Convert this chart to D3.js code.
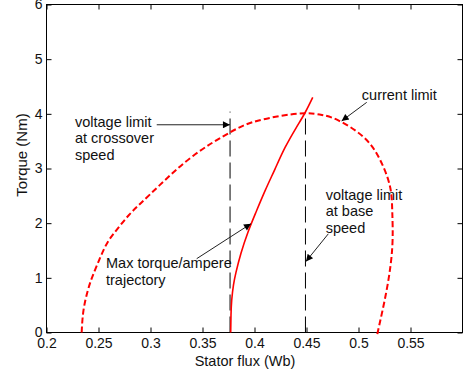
<!DOCTYPE html>
<html>
<head>
<meta charset="utf-8">
<script src="https://cdn.jsdelivr.net/npm/d3@7"></script>
<style>
  body { margin: 0; background: #fff; }
  svg { display: block; }
  text { font-family: "Liberation Sans", Arial, sans-serif; fill: #111; }
  .tick text { font-family: "Liberation Sans Narrow", "Liberation Sans", Arial, sans-serif; font-size: 14px; }
</style>
</head>
<body>
<svg id="chart" width="464" height="374"></svg>
<script>
// Axis ticks
const xTicks = [0.2, 0.25, 0.3, 0.35, 0.4, 0.45, 0.5, 0.55];
const yTicks = [0, 1, 2, 3, 4, 5, 6];

// Current limit locus (stator flux in Wb, torque in Nm)
const currentLimitFlux   = [0.2338, 0.2356, 0.2399, 0.2447, 0.2514, 0.2591, 0.2688, 0.2793, 0.2909, 0.3091, 0.3409, 0.3764, 0.3986, 0.4245, 0.4486, 0.4649, 0.4806, 0.5046, 0.5207, 0.5303, 0.5325, 0.5325, 0.5271, 0.5190, 0.5188];
const currentLimitTorque = [0.00,   0.41,   0.78,   1.05,   1.36,   1.66,   1.91,   2.15,   2.37,   2.70,   3.23,   3.66,   3.85,   3.96,   4.01,   3.98,   3.88,   3.58,   3.16,   2.67,   2.19,   1.57,   0.78,   0.05,   0.00];

// Maximum torque per ampere trajectory
const mtpaFlux   = [0.3771, 0.3774, 0.3781, 0.3798, 0.3822, 0.3870, 0.3938, 0.4014, 0.4101, 0.4197, 0.4293, 0.4399, 0.4486, 0.4560];
const mtpaTorque = [0.00,   0.32,   0.595,  0.87,   1.10,   1.45,   1.84,   2.20,   2.59,   2.99,   3.38,   3.74,   4.02,   4.30];

// Voltage limits (vertical lines): crossover speed and base speed
const voltageLimitFlux = [0.3765, 0.4490];
const voltageLimitTop  = [4.04, 4.00];

// Annotations: text anchor and arrow from/to, in data units
const annotations = [
  { lines: ["voltage limit", "at crossover", "speed"], tx: 0.2274, ty: 3.768, from: [0.3060, 3.80], to: [0.3764, 3.80] },
  { lines: ["current limit"], tx: 0.5032, ty: 4.256, from: [0.5079, 4.21], to: [0.4838, 3.87] },
  { lines: ["Max torque/ampere", "trajectory"], tx: 0.2572, ty: 1.18, from: [0.3444, 1.35], to: [0.3966, 1.99] },
  { lines: ["voltage limit", "at base", "speed"], tx: 0.4685, ty: 2.43, from: [0.4710, 1.805], to: [0.4495, 1.30] }
];

const xLabel = "Stator flux (Wb)";
const yLabel = "Torque (Nm)";

const svg = d3.select("#chart");
const plotLeft = 46.5, plotRight = 462.5, plotTop = 4.5, plotBottom = 332.5;

const x = d3.scaleLinear().domain([0.2, 0.6]).range([plotLeft, plotRight]);
const y = d3.scaleLinear().domain([0, 6]).range([plotBottom, plotTop]);

// Arrowhead marker
svg.append("defs").append("marker")
  .attr("id", "head")
  .attr("viewBox", "0 0 10 10")
  .attr("refX", 10).attr("refY", 5)
  .attr("markerWidth", 9).attr("markerHeight", 7)
  .attr("markerUnits", "userSpaceOnUse")
  .attr("orient", "auto")
  .append("path")
  .attr("d", "M0,0L10,5L0,10Z")
  .attr("fill", "#000");

// Axes with inward ticks on all four sides
const gx = svg.append("g").attr("transform", `translate(0,${plotBottom})`)
  .call(d3.axisBottom(x).tickValues(xTicks).tickFormat(d3.format("")).tickSizeInner(-5).tickSizeOuter(0).tickPadding(6));
const gy = svg.append("g").attr("transform", `translate(${plotLeft},0)`)
  .call(d3.axisLeft(y).tickValues(yTicks).tickFormat(d3.format("d")).tickSizeInner(-5).tickSizeOuter(0).tickPadding(4));
const gt = svg.append("g").attr("transform", `translate(0,${plotTop})`)
  .call(d3.axisTop(x).tickValues(xTicks).tickFormat("").tickSizeInner(-5).tickSizeOuter(0));
const gr = svg.append("g").attr("transform", `translate(${plotRight},0)`)
  .call(d3.axisRight(y).tickValues(yTicks).tickFormat("").tickSizeInner(-5).tickSizeOuter(0));
[gx, gy, gt, gr].forEach(g => {
  g.select(".domain").remove();
  g.selectAll(".tick line").attr("stroke", "#000");
  g.selectAll(".tick text").attr("fill", "#111");
});

// Plot box
svg.append("rect")
  .attr("x", plotLeft).attr("y", plotTop)
  .attr("width", plotRight - plotLeft).attr("height", plotBottom - plotTop)
  .attr("fill", "none").attr("stroke", "#000").attr("stroke-width", 1);

// Voltage limit lines
svg.append("g").selectAll("line")
  .data(voltageLimitFlux.map((f, i) => [f, voltageLimitTop[i]]))
  .join("line")
  .attr("x1", d => x(d[0])).attr("x2", d => x(d[0]))
  .attr("y1", y(0)).attr("y2", d => y(d[1]))
  .attr("stroke", "#000").attr("stroke-width", 1)
  .attr("stroke-dasharray", "16,6");

const line = d3.line().x(d => x(d[0])).y(d => y(d[1])).curve(d3.curveNatural);

// Current limit
svg.append("path")
  .datum(currentLimitFlux.map((f, i) => [f, currentLimitTorque[i]]))
  .attr("d", line)
  .attr("fill", "none").attr("stroke", "#ff0000").attr("stroke-width", 2)
  .attr("stroke-dasharray", "6,3");

// MTPA trajectory
svg.append("path")
  .datum(mtpaFlux.map((f, i) => [f, mtpaTorque[i]]))
  .attr("d", line)
  .attr("fill", "none").attr("stroke", "#ff0000").attr("stroke-width", 1.6);

// Annotations
const ann = svg.append("g");
annotations.forEach(a => {
  ann.append("line")
    .attr("x1", x(a.from[0])).attr("y1", y(a.from[1]))
    .attr("x2", x(a.to[0])).attr("y2", y(a.to[1]))
    .attr("stroke", "#222").attr("stroke-width", 1)
    .attr("marker-end", "url(#head)");
  const t = ann.append("text")
    .attr("x", x(a.tx)).attr("y", y(a.ty))
    .attr("font-size", "14.5px");
  a.lines.forEach((s, i) => {
    t.append("tspan").attr("x", x(a.tx)).attr("dy", i === 0 ? 0 : "1.15em").text(s);
  });
});

// Axis labels
svg.append("text")
  .attr("x", 245).attr("y", 365.5)
  .attr("text-anchor", "middle").attr("font-size", "14.5px")
  .text(xLabel);
svg.append("text")
  .attr("transform", "translate(27,155) rotate(-90)")
  .attr("text-anchor", "middle").attr("font-size", "15px")
  .text(yLabel);
</script>
</body>
</html>
